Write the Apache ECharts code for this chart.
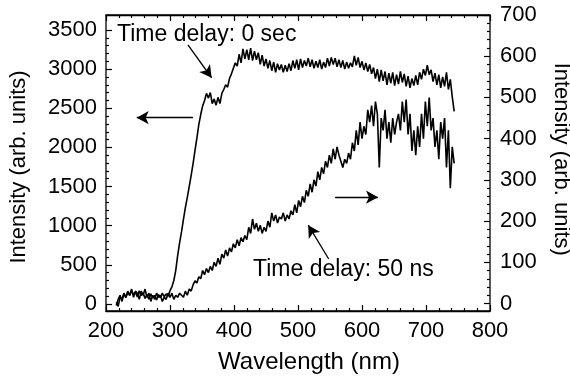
<!DOCTYPE html>
<html>
<head>
<meta charset="utf-8">
<script src="https://cdn.jsdelivr.net/npm/echarts@6/dist/echarts.min.js"></script>
<style>
  html, body { margin: 0; padding: 0; background: #ffffff; }
  #chart { width: 570px; height: 382px; }
</style>
</head>
<body>
<div id="chart"></div>
<script>
// wavelength (nm)
const wavelength = [
  216, 219, 222, 225, 228, 231, 234, 237, 240, 243, 246, 249, 252, 255, 258, 261, 264, 267, 270, 273,
  276, 279, 282, 285, 288, 291, 294, 297, 300, 303, 306, 309, 312, 315, 318, 321, 324, 327, 330, 333,
  336, 339, 342, 345, 348, 351, 354, 357, 360, 363, 366, 369, 372, 375, 378, 381, 384, 387, 390, 393,
  396, 399, 402, 405, 408, 411, 414, 417, 420, 423, 426, 429, 432, 435, 438, 441, 444, 447, 450, 453,
  456, 459, 462, 465, 468, 471, 474, 477, 480, 483, 486, 489, 492, 495, 498, 501, 504, 507, 510, 513,
  516, 519, 522, 525, 528, 531, 534, 537, 540, 543, 546, 549, 552, 555, 558, 561, 564, 567, 570, 573,
  576, 579, 582, 585, 588, 591, 594, 597, 600, 603, 606, 609, 612, 615, 618, 621, 624, 627, 630, 633,
  636, 639, 642, 645, 648, 651, 654, 657, 660, 663, 666, 669, 672, 675, 678, 681, 684, 687, 690, 693,
  696, 699, 702, 705, 708, 711, 714, 717, 720, 723, 726, 729, 732, 735, 738, 741, 744
];

// time delay 0 sec (left axis)
const delay0 = [
  20, -30, 90, 60, 130, 80, 150, 110, 170, 120,
  150, 90, 170, 110, 140, 70, 120, 60, 130, 80,
  110, 50, 120, 80, 140, 90, 130, 100, 170, 220,
  300, 430, 620, 780, 920, 1080, 1230, 1360, 1500, 1640,
  1790, 1960, 2120, 2290, 2420, 2530, 2600, 2690, 2630, 2700,
  2560, 2620, 2540, 2640, 2560, 2690, 2740, 2800, 2770, 2880,
  2940, 2960, 3080, 3040, 3190, 3080, 3260, 3130, 3250, 3120,
  3270, 3110, 3230, 3120, 3210, 3060, 3180, 3040, 3130, 3010,
  3110, 2980, 3090, 2960, 3070, 2990, 3060, 2960, 3050, 2970,
  3070, 2980, 3110, 3010, 3120, 2990, 3130, 3020, 3110, 3040,
  3140, 3030, 3120, 3010, 3100, 3020, 3120, 3000, 3090, 3020,
  3140, 3040, 3150, 3060, 3140, 3030, 3120, 3020, 3110, 3000,
  3090, 3010, 3080, 3030, 3170, 3050, 3150, 3020, 3100, 2990,
  3080, 2970, 3060, 2940, 3020, 2880, 3000, 2840, 2990, 2850,
  2970, 2800, 2950, 2820, 2960, 2790, 2930, 2810, 2970, 2830,
  2940, 2780, 2910, 2760, 2880, 2790, 2920, 2800, 2960, 2870,
  3000, 2920, 3050, 2930, 2990, 2840, 2950, 2800, 2930, 2760,
  2900, 2780, 2960, 2740, 2870, 2650, 2460
];

// time delay 50 ns (right axis)
const delay50 = [
  -5, 10, 20, 5, 25, 15, 30, 20, 35, 15, 30, 25, 10, 30, 20, 35, 15, 25, 5, 20,
  10, 25, 15, 20, 5, 15, 10, 25, 15, 25, 10, 20, 15, 25, 20, 15, 30, 20, 35, 30,
  45, 55, 50, 65, 60, 80, 70, 85, 75, 90, 80, 100, 90, 110, 95, 120, 110, 130, 115, 135,
  125, 145, 135, 155, 140, 160, 150, 165, 155, 185, 170, 205, 180, 195, 175, 190, 170, 185, 175, 200,
  185, 220, 200, 215, 195, 210, 205, 220, 200, 215, 205, 225, 215, 240, 220, 250, 235, 260, 245, 275,
  260, 290, 270, 300, 285, 320, 300, 330, 315, 345, 330, 360, 340, 375, 350, 380, 360, 345, 330, 350,
  340, 365, 350, 390, 370, 420, 385, 440, 400, 430, 410, 470, 440, 480, 430, 490, 460, 330, 450, 420,
  470, 400, 440, 390, 450, 410, 440, 460, 420, 490, 440, 495, 410, 460, 370, 420, 360, 430, 380, 460,
  400, 490, 430, 500, 420, 450, 380, 420, 350, 440, 400, 450, 330, 420, 280, 380, 340
];

const xTicks = [200, 300, 400, 500, 600, 700, 800];
const leftTicks = [0, 500, 1000, 1500, 2000, 2500, 3000, 3500];
const rightTicks = [0, 100, 200, 300, 400, 500, 600, 700];

const FONT = 'Liberation Sans';
const INK = '#000000';

const chart = echarts.init(document.getElementById('chart'), null, { renderer: 'canvas' });

function pairs(xs, ys) {
  return xs.map((x, i) => [x, ys[i]]);
}

const tickStyle = { color: INK, width: 1.2 };
const plain = v => String(v);

const option = {
  backgroundColor: '#ffffff',
  animation: false,
  textStyle: { fontFamily: FONT, color: INK },
  grid: [
    // frame
    { left: 106, right: 80, top: 15, bottom: 71, outerBoundsMode: 'none', containLabel: false,
      show: true, borderColor: INK, borderWidth: 1.3, backgroundColor: 'transparent' },
    // left axis 0..3500
    { left: 106, right: 80, top: 30, bottom: 78, outerBoundsMode: 'none', containLabel: false },
    // right axis 0..700
    { left: 106, right: 80, top: 15, bottom: 78.5, outerBoundsMode: 'none', containLabel: false }
  ],
  xAxis: [
    {
      gridIndex: 0, type: 'value', position: 'bottom',
      min: xTicks[0], max: xTicks[xTicks.length - 1], interval: 100,
      name: 'Wavelength (nm)', nameLocation: 'middle', nameGap: 39,
      nameTextStyle: { fontFamily: FONT, fontSize: 24, color: INK, padding: [0, 0, 0, 22] },
      axisLine: { onZero: false, lineStyle: { color: INK, width: 1.3 } },
      axisTick: { inside: true, length: 6, lineStyle: tickStyle },
      minorTick: { show: true, splitNumber: 5, length: 3, lineStyle: tickStyle },
      axisLabel: { fontFamily: FONT, fontSize: 22, color: INK, margin: 9, formatter: plain },
      splitLine: { show: false }
    },
    {
      gridIndex: 0, type: 'value', position: 'top',
      min: xTicks[0], max: xTicks[xTicks.length - 1], interval: 100,
      axisLine: { onZero: false, lineStyle: { color: INK, width: 1.3 } },
      axisTick: { inside: true, length: 6, lineStyle: tickStyle },
      minorTick: { show: true, splitNumber: 5, length: 3, lineStyle: tickStyle },
      axisLabel: { show: false },
      splitLine: { show: false }
    },
    { gridIndex: 1, type: 'value', min: 200, max: 800, show: false },
    { gridIndex: 2, type: 'value', min: 200, max: 800, show: false }
  ],
  yAxis: [
    {
      gridIndex: 0, type: 'value', min: 0, max: 1, show: false
    },
    {
      gridIndex: 1, type: 'value', position: 'left',
      min: leftTicks[0], max: leftTicks[leftTicks.length - 1], interval: 500,
      name: 'Intensity (arb. units)', nameLocation: 'middle', nameGap: 76, nameRotate: 90,
      nameTextStyle: { fontFamily: FONT, fontSize: 22, color: INK },
      axisLine: { show: false, onZero: false },
      axisTick: { inside: true, length: 6, lineStyle: tickStyle },
      minorTick: { show: true, splitNumber: 5, length: 3, lineStyle: tickStyle },
      axisLabel: { fontFamily: FONT, fontSize: 22, color: INK, margin: 9, formatter: plain },
      splitLine: { show: false }
    },
    {
      gridIndex: 2, type: 'value', position: 'right',
      min: rightTicks[0], max: rightTicks[rightTicks.length - 1], interval: 100,
      name: 'Intensity (arb. units)', nameLocation: 'middle', nameGap: 60, nameRotate: -90,
      nameTextStyle: { fontFamily: FONT, fontSize: 22, color: INK },
      axisLine: { show: false, onZero: false },
      axisTick: { inside: true, length: 6, lineStyle: tickStyle },
      minorTick: { show: true, splitNumber: 5, length: 3, lineStyle: tickStyle },
      axisLabel: { fontFamily: FONT, fontSize: 22, color: INK, margin: 10, formatter: plain },
      splitLine: { show: false }
    }
  ],
  series: [
    {
      name: 'Time delay: 0 sec',
      type: 'line', xAxisIndex: 2, yAxisIndex: 1,
      data: pairs(wavelength, delay0),
      showSymbol: false, symbol: 'none', clip: false,
      lineStyle: { color: INK, width: 1.6 },
      markLine: {
        silent: true, symbol: ['none', 'arrow'], symbolSize: [10, 12],
        label: { show: false },
        lineStyle: { color: INK, width: 1.3, type: 'solid' },
        data: [
          [{ coord: [328, 3310] }, { coord: [365, 2890] }],
          [{ coord: [336, 2380] }, { coord: [248, 2380] }]
        ]
      }
    },
    {
      name: 'Time delay: 50 ns',
      type: 'line', xAxisIndex: 3, yAxisIndex: 2,
      data: pairs(wavelength, delay50),
      showSymbol: false, symbol: 'none', clip: false,
      lineStyle: { color: INK, width: 1.6 },
      markLine: {
        silent: true, symbol: ['none', 'arrow'], symbolSize: [10, 12],
        label: { show: false },
        lineStyle: { color: INK, width: 1.3, type: 'solid' },
        data: [
          [{ coord: [558, 258] }, { coord: [625, 258] }],
          [{ coord: [548, 108] }, { coord: [516, 190] }]
        ]
      }
    }
  ],
  graphic: [
    {
      type: 'text', left: 117, top: 23,
      style: { text: 'Time delay: 0 sec', font: '23px "Liberation Sans"', fill: INK }
    },
    {
      type: 'text', left: 253, top: 258,
      style: { text: 'Time delay: 50 ns', font: '23px "Liberation Sans"', fill: INK }
    }
  ]
};

chart.setOption(option);
</script>
</body>
</html>
